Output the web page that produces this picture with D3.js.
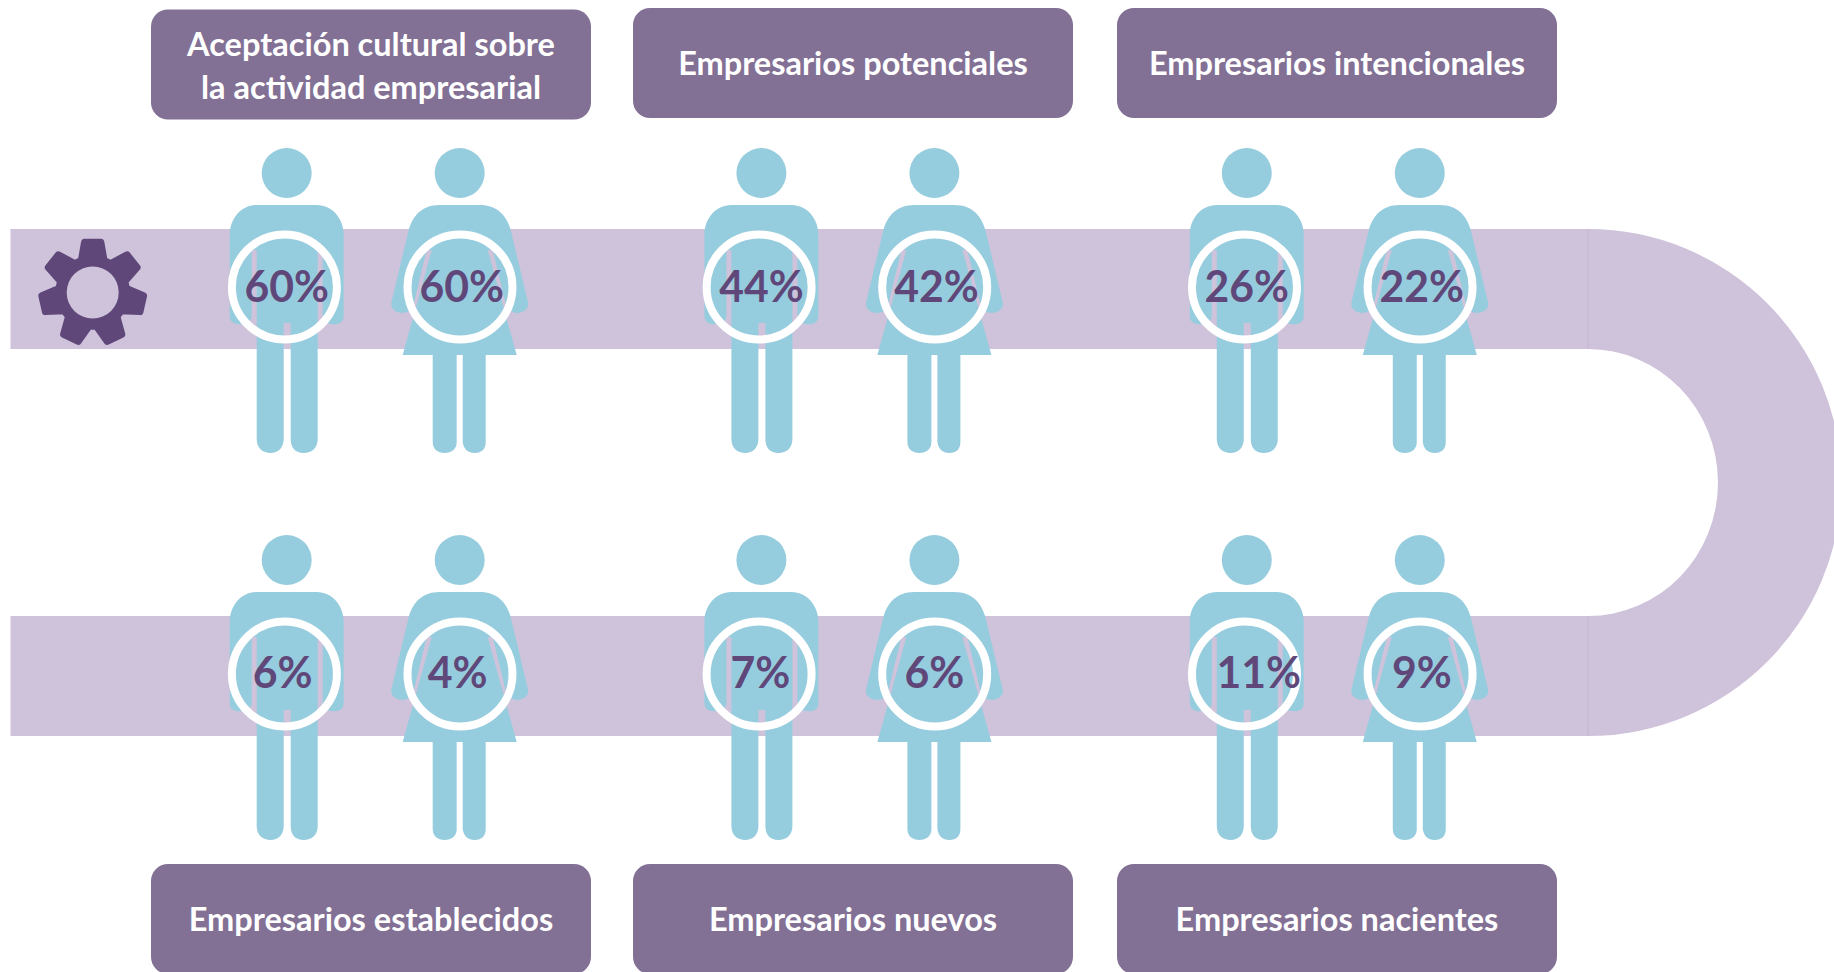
<!DOCTYPE html>
<html><head><meta charset="utf-8">
<script src="https://cdn.jsdelivr.net/npm/d3@7/dist/d3.min.js"></script>
<style>html,body{margin:0;padding:0;background:#fff;overflow:hidden}svg{display:block}text{font-family:Lato,"Open Sans",sans-serif}</style>
</head><body><div id="c"></div>
<script>
const topStages = [["Aceptación cultural sobre","la actividad empresarial"],["Empresarios potenciales"],["Empresarios intencionales"]];
const bottomStages = [["Empresarios establecidos"],["Empresarios nuevos"],["Empresarios nacientes"]];
const topMale = [60,44,26];
const topFemale = [60,42,22];
const bottomMale = [6,7,11];
const bottomFemale = [4,6,9];
const labelNudgeMale = [[0,0,0],[-4,-1,12]];
const labelNudgeFemale = [[2,2,2],[-2,0,2]];

const W=1834,H=972;
const COL={band:"#cfc2db",seam:"#c3b5d4",box:"#827095",fig:"#96cdde",txt:"#5f4879"};
const svg=d3.select("#c").append("svg").attr("width",W).attr("height",H).attr("viewBox",`0 0 ${W} ${H}`);

const col=d3.scaleLinear().domain([0,1]).range([286.7,761.4]);  // male head per column
const row=d3.scaleLinear().domain([0,1]).range([173,560]);      // head y per row
const sexGap=d3.scaleOrdinal().domain(["m","f"]).range([0,173]);
const colX=[0,1,2.0225].map(col);

// band
const bandTop=row(0)+56, bandH=120, bandStep=row(1)-row(0), seamX=1588, bandL=10.5;
[0,1].forEach(r=>{
  const y=bandTop+r*bandStep;
  svg.append("rect").attr("x",bandL).attr("y",y).attr("width",seamX-bandL).attr("height",bandH).attr("fill",COL.band);
});
const outer=(bandStep+bandH)/2, inner=outer-bandH, innerRx=130;
svg.append("path").attr("transform",`translate(${seamX},${bandTop+outer})`).attr("fill",COL.band)
  .attr("d",`M0,${-outer}A${outer},${outer} 0 0 1 0,${outer}L0,${inner}A${innerRx},${inner} 0 0 0 0,${-inner}Z`);
[0,1].forEach(r=>{
  const y=bandTop+r*bandStep;
  svg.append("line").attr("x1",seamX).attr("x2",seamX).attr("y1",y).attr("y2",y+bandH).attr("stroke",COL.seam).attr("stroke-width",1);
});

// gear
(function(){
  const n=7,cx=92.7,cy=292.5,r1=51,r0=34,p=d3.path(),pts=[];
  for(let i=0;i<n;i++){
    const a=-Math.PI/2+i*2*Math.PI/n;
    [[r0,-0.34],[r1,-0.16],[r1,0.16],[r0,0.34]].forEach(([r,d])=>pts.push([cx+r*Math.cos(a+d),cy+r*Math.sin(a+d)]));
  }
  pts.forEach((q,i)=>i?p.lineTo(q[0],q[1]):p.moveTo(q[0],q[1]));p.closePath();
  svg.append("path").attr("d",p.toString()).attr("fill",COL.txt).attr("stroke",COL.txt).attr("stroke-width",7).attr("stroke-linejoin","round");
  svg.append("circle").attr("cx",cx).attr("cy",cy).attr("r",26).attr("fill",COL.band);
})();

// figures, in coordinates relative to the head centre
const maleBody="M-30,32 L30,32 C46,32 57,46 57,62 L57,143 C57,149 52,152 46,151 C39,151 36,148 36,143 L36,77 L31,77 L31,266 C31,275 25,280 17,280 C9,280 4,275 4,266 L4,150 L-3,150 L-3,266 C-3,275 -9,280 -16,280 C-24,280 -30,275 -30,266 L-30,77 L-35,77 L-35,143 C-35,148 -39,151 -45,151 C-52,152 -57,149 -57,143 L-57,62 C-57,46 -46,32 -30,32 Z";
const femaleBody="M-20,32 L20,32 C38,32 47,43 51,57 L68,128 C70,134 66,139 58,140 C52,140 48,137 46,131 L33,77 L28,77 L57,182 L26,182 L26,269 C26,276 22,280 15,280 C8,280 4,276 3,269 L3,182 L-3,182 L-3,269 C-3,276 -8,280 -15,280 C-22,280 -27,276 -27,269 L-27,182 L-57,182 L-28,77 L-33,77 L-46,131 C-48,137 -52,140 -58,140 C-66,139 -70,134 -68,128 L-51,57 C-47,43 -38,32 -20,32 Z";

function person(r,c,sex,value,nudge){
  const x=colX[c]+sexGap(sex), y=row(r);
  const g=svg.append("g").attr("transform",`translate(${x},${y})`);
  g.append("circle").attr("r",25).attr("fill",COL.fig);
  g.append("path").attr("d",sex==="m"?maleBody:femaleBody).attr("fill",COL.fig);
  const rx=sex==="m"?-2.3:0.3;
  g.append("circle").attr("cx",rx).attr("cy",114).attr("r",52.5).attr("fill","none").attr("stroke","#fff").attr("stroke-width",8);
  g.append("text").attr("transform",`translate(${nudge},${r?128:129}) scale(0.96,1)`).attr("text-anchor","middle").attr("font-size",44.5).attr("font-weight",700).attr("fill",COL.txt).text(value+"%");
}
[[topMale,"m",0,labelNudgeMale[0]],[topFemale,"f",0,labelNudgeFemale[0]],[bottomMale,"m",1,labelNudgeMale[1]],[bottomFemale,"f",1,labelNudgeFemale[1]]]
 .forEach(([vals,sex,r,n])=>vals.forEach((v,c)=>person(r,c,sex,v,n[c])));

// stage boxes
const boxX=[151,633,1117], boxW=440, boxH=110;
function boxes(list,ys){
  list.forEach((lines,i)=>{
    svg.append("rect").attr("x",boxX[i]).attr("y",ys[i]).attr("width",boxW).attr("height",boxH).attr("rx",17).attr("fill",COL.box);
    const mid=ys[i]+boxH/2, lh=43;
    lines.forEach((t,j)=>svg.append("text").attr("x",boxX[i]+boxW/2).attr("y",mid+12+(lines.length>1?1:0)+(j-(lines.length-1)/2)*lh)
      .attr("text-anchor","middle").attr("font-size",32.5).attr("font-weight",700).attr("fill","#fff").text(t));
  });
}
boxes(topStages,[9.5,8,8]);
boxes(bottomStages,[864,864,864]);
</script></body></html>
